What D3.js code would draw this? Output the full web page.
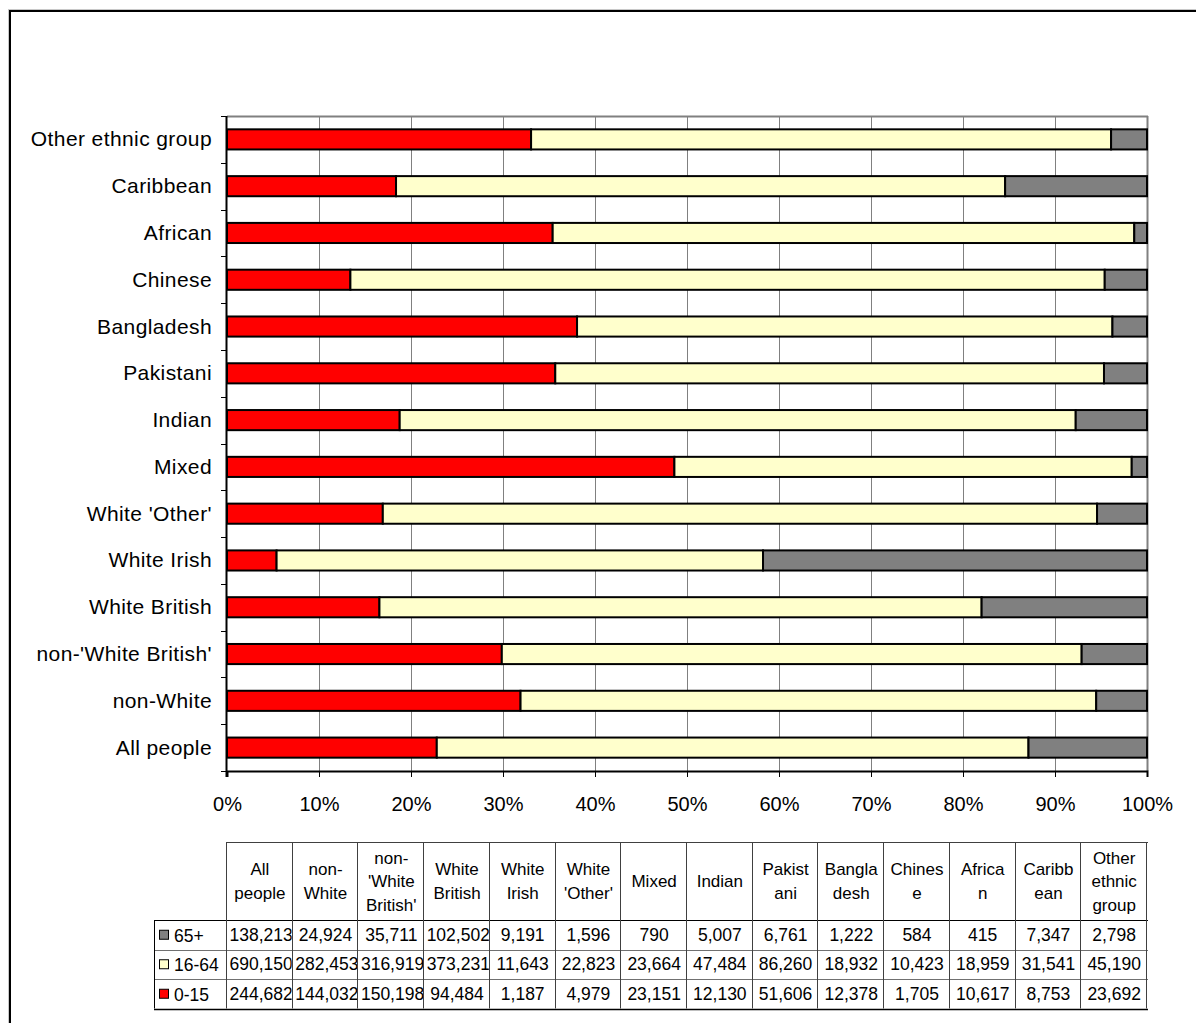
<!DOCTYPE html>
<html>
<head>
<meta charset="utf-8">
<script src="https://cdn.jsdelivr.net/npm/d3@7"></script>
<style>
  body { margin: 0; background: #fff; }
  svg { display: block; font-family: "Liberation Sans", Arial, sans-serif; }
</style>
</head>
<body>
<svg id="chart" width="1196" height="1023"></svg>
<script>
// Population by age band and ethnic group
const categories = ["All people", "non-White", "non-'White British'", "White British", "White Irish",
  "White 'Other'", "Mixed", "Indian", "Pakistani", "Bangladesh", "Chinese", "African", "Caribbean",
  "Other ethnic group"];
const axisLabels = ["All people", "non-White ", "non-'White British'", "White British", "White Irish",
  "White 'Other'", "Mixed", "Indian", "Pakistani", "Bangladesh", "Chinese", "African", "Caribbean",
  "Other ethnic group"];
const columnHeaders = [["All", "people"], ["non-", "White"], ["non-", "'White", "British'"],
  ["White", "British"], ["White", "Irish"], ["White", "'Other'"], ["Mixed"], ["Indian"],
  ["Pakist", "ani"], ["Bangla", "desh"], ["Chines", "e"], ["Africa", "n"], ["Caribb", "ean"],
  ["Other", "ethnic", "group"]];

const age0to15 = [244682, 144032, 150198, 94484, 1187, 4979, 23151, 12130, 51606, 12378, 1705, 10617, 8753, 23692];
const age16to64 = [690150, 282453, 316919, 373231, 11643, 22823, 23664, 47484, 86260, 18932, 10423, 18959, 31541, 45190];
const age65plus = [138213, 24924, 35711, 102502, 9191, 1596, 790, 5007, 6761, 1222, 584, 415, 7347, 2798];

const seriesKeys = ["0-15", "16-64", "65+"];
const seriesColors = ["#FF0000", "#FFFFCC", "#808080"];
const tableRowOrder = ["65+", "16-64", "0-15"];
const xTickValues = [0, 0.1, 0.2, 0.3, 0.4, 0.5, 0.6, 0.7, 0.8, 0.9, 1.0];

const rows = categories.map((c, i) => ({
  category: c, label: axisLabels[i],
  "0-15": age0to15[i], "16-64": age16to64[i], "65+": age65plus[i]
}));

const svg = d3.select("#chart");
const plot = { left: 227, right: 1147, top: 116, bottom: 771 };

// Outer chart frame (runs off the right and bottom edges)
svg.append("rect").attr("x", 8.5).attr("y", 9.5).attr("width", 1300).attr("height", 1200)
  .attr("fill", "none").attr("stroke", "#c8c8c8").attr("stroke-width", 1);
svg.append("rect").attr("x", 10).attr("y", 11).attr("width", 1300).attr("height", 1200)
  .attr("fill", "none").attr("stroke", "#000").attr("stroke-width", 2);

const x = d3.scaleLinear().domain([0, 1]).range([plot.left, plot.right]);
const y = d3.scaleBand().domain(categories.slice().reverse())
  .range([plot.top, plot.bottom]).paddingInner(0.57).paddingOuter(0.285);

// Gridlines
svg.append("g").selectAll("line").data(xTickValues.slice(1)).join("line")
  .attr("x1", d => Math.round(x(d)) + 0.5).attr("x2", d => Math.round(x(d)) + 0.5)
  .attr("y1", plot.top).attr("y2", plot.bottom)
  .attr("stroke", "#808080").attr("stroke-width", 1);
// Plot area top and right border
svg.append("line").attr("x1", plot.left).attr("x2", plot.right + 1)
  .attr("y1", plot.top + 0.5).attr("y2", plot.top + 0.5)
  .attr("stroke", "#808080").attr("stroke-width", 2);
svg.append("line").attr("x1", plot.right + 0.5).attr("x2", plot.right + 0.5)
  .attr("y1", plot.top).attr("y2", plot.bottom)
  .attr("stroke", "#808080").attr("stroke-width", 2);

// Stacked 100% bars
const stacked = d3.stack().keys(seriesKeys).offset(d3.stackOffsetExpand)(rows);
const color = d3.scaleOrdinal().domain(seriesKeys).range(seriesColors);
svg.append("g").selectAll("g").data(stacked).join("g")
  .attr("fill", d => color(d.key))
  .selectAll("rect").data(d => d).join("rect")
  .attr("x", d => x(d[0]))
  .attr("y", d => y(d.data.category))
  .attr("width", d => x(d[1]) - x(d[0]))
  .attr("height", y.bandwidth())
  .attr("stroke", "#000").attr("stroke-width", 2);

// Category axis: ticks at band boundaries
const boundaries = d3.range(categories.length + 1).map(i => plot.top + i * y.step());
svg.append("g").selectAll("line").data(boundaries).join("line")
  .attr("x1", plot.left - 6).attr("x2", plot.left)
  .attr("y1", d => Math.round(d) + 0.5).attr("y2", d => Math.round(d) + 0.5)
  .attr("stroke", "#000").attr("stroke-width", 1);
svg.append("line").attr("x1", plot.left - 0.5).attr("x2", plot.left - 0.5)
  .attr("y1", plot.top).attr("y2", plot.bottom + 6)
  .attr("stroke", "#000").attr("stroke-width", 2);
svg.append("g").selectAll("text").data(rows).join("text")
  .attr("x", 212).attr("y", d => y(d.category) + y.bandwidth() / 2 + 7)
  .attr("text-anchor", "end").attr("font-size", 21).attr("letter-spacing", 0.4).attr("fill", "#000")
  .text(d => d.label);

// Value axis
const xAxis = svg.append("g").attr("transform", `translate(0,${plot.bottom})`)
  .call(d3.axisBottom(x).tickValues(xTickValues).tickFormat(d3.format(".0%"))
    .tickSize(6).tickPadding(20));
xAxis.select(".domain").attr("stroke", "#000").attr("stroke-width", 2);
xAxis.selectAll(".tick line").attr("stroke", "#000");
xAxis.selectAll(".tick text").attr("font-size", 20).attr("fill", "#000")
  .attr("font-family", "Liberation Sans, Arial, sans-serif");

// Data table
const col = d3.scaleBand().domain(categories).range([plot.left, plot.right]);
const table = { headerTop: 842, headerBottom: 920, rowH: 29.5, legendLeft: 154 };
const tableRows = tableRowOrder.map(k => ({ key: k, values: rows.map(r => r[k]) }));
const rowTop = i => table.headerBottom + i * table.rowH;
const tableBottom = rowTop(tableRows.length);
const tg = svg.append("g");
const fmt = d3.format(",");

// Header texts
categories.forEach((c, i) => {
  const lines = columnHeaders[i];
  const cx = col(c) + col.bandwidth() / 2;
  const cy = (table.headerTop + table.headerBottom) / 2;
  const t = tg.append("text").attr("text-anchor", "middle").attr("font-size", 17).attr("fill", "#000");
  lines.forEach((ln, j) => {
    t.append("tspan").attr("x", cx).attr("y", cy + 6 + (j - (lines.length - 1) / 2) * 23.5).text(ln);
  });
});

// Cell values, clipped to their cells
const defs = svg.append("defs");
tableRows.forEach((r, ri) => {
  const top = rowTop(ri);
  r.values.forEach((v, ci) => {
    const cx0 = col(categories[ci]);
    const id = `cell-${ri}-${ci}`;
    defs.append("clipPath").attr("id", id).append("rect")
      .attr("x", cx0).attr("y", top).attr("width", col.bandwidth() - 1).attr("height", table.rowH);
    const t = tg.append("text").attr("clip-path", `url(#${id})`)
      .attr("font-size", 17.5).attr("fill", "#000")
      .attr("y", top + table.rowH / 2 + 6).text(fmt(v));
    const w = t.node().getComputedTextLength();
    if (w > col.bandwidth() - 6) {
      t.attr("x", cx0 + 2.5).attr("text-anchor", "start");
    } else {
      t.attr("x", cx0 + col.bandwidth() / 2).attr("text-anchor", "middle");
    }
  });
  // Legend key and series name
  tg.append("rect").attr("x", table.legendLeft + 5.5).attr("y", top + table.rowH / 2 - 4.5)
    .attr("width", 9).attr("height", 9)
    .attr("fill", color(r.key)).attr("stroke", "#000").attr("stroke-width", 1);
  tg.append("text").attr("x", table.legendLeft + 20).attr("y", top + table.rowH / 2 + 7)
    .attr("font-size", 17.5).attr("fill", "#000").text(r.key);
});

// Table grid
const gridColor = "#404040";
tg.append("line").attr("x1", plot.left).attr("x2", plot.right + 1)
  .attr("y1", table.headerTop + 0.5).attr("y2", table.headerTop + 0.5).attr("stroke", gridColor);
[0, 1, 2, 3].forEach(i => {
  tg.append("line").attr("x1", table.legendLeft).attr("x2", plot.right + 1)
    .attr("y1", Math.round(rowTop(i)) + 0.5).attr("y2", Math.round(rowTop(i)) + 0.5)
    .attr("stroke", i === 0 || i === 3 ? "#000" : "#707070").attr("stroke-width", i === 3 ? 1.5 : 1);
});
tg.append("line").attr("x1", table.legendLeft + 0.5).attr("x2", table.legendLeft + 0.5)
  .attr("y1", table.headerBottom).attr("y2", tableBottom).attr("stroke", "#000");
tg.selectAll("line.vcol").data(categories.concat(["end"])).join("line").attr("class", "vcol")
  .attr("x1", (d, i) => Math.round(plot.left + i * col.step()) - 0.5)
  .attr("x2", (d, i) => Math.round(plot.left + i * col.step()) - 0.5)
  .attr("y1", table.headerTop).attr("y2", tableBottom)
  .attr("stroke", gridColor);
</script>
</body>
</html>
